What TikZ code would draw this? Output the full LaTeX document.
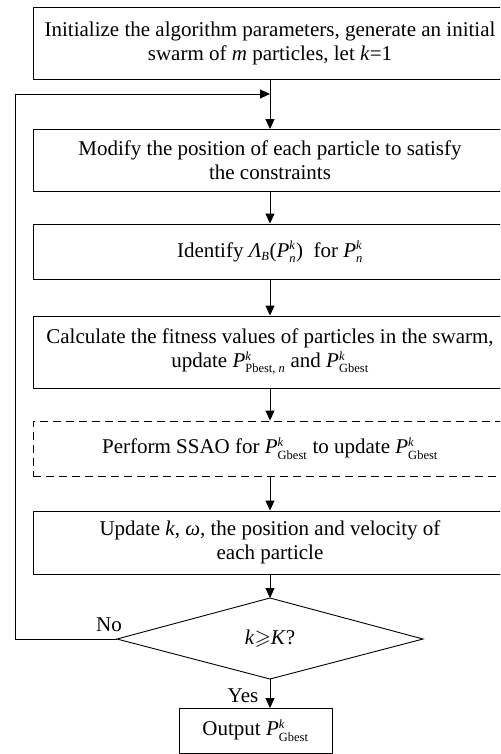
\documentclass[tikz,border=0pt]{standalone}
\usepackage{amssymb}
\usepackage{fontspec}
\setmainfont{Liberation Serif}
\usetikzlibrary{arrows.meta,shapes.geometric}
\newcommand\subfs{\fontsize{12.5}{13}\selectfont}
\newcommand\PP[2]{\textit{P}$^{\mbox{\subfs\itshape #1}}_{\mbox{\subfs #2}}$}
\newcommand\Pn{\textit{P}$^{\mbox{\subfs\itshape k}}_{\mbox{\subfs\itshape n}}$}
\begin{document}
\begin{tikzpicture}[x=1pt,y=-1pt,
  every node/.style={font=\fontsize{21}{24}\selectfont},
  proc/.style={draw,line width=0.9pt,minimum width=474pt,align=center,inner sep=0pt},
  dproc/.style={proc,dash pattern=on 8pt off 5pt},
  arr/.style={-{Triangle[length=10pt,width=9pt]},line width=0.9pt},
  ln/.style={line width=0.9pt}]
\useasboundingbox (0,0) rectangle (500,754);
\clip (0,0) rectangle (500,754);
\node[proc,minimum height=72pt] (b1) at (270,43) {Initialize the algorithm parameters, generate an initial\\swarm of \textit{m} particles, let \textit{k}=1};
\node[proc,minimum height=62pt] (b2) at (270,160.5) {Modify the position of each particle to satisfy\\the constraints};
\node[proc,minimum height=55pt] (b3) at (270,251.5) {Identify \textit{Λ}$_{\mbox{\subfs\itshape B}}$(\Pn)\ \ for \Pn};
\node[proc,minimum height=72pt] (b4) at (270,352) {Calculate the fitness values of particles in the swarm,\\update \PP{k}{Pbest, \itshape n} and \PP{k}{Gbest}};
\node[dproc,minimum height=55pt] (b5) at (270,448.5) {Perform SSAO for \PP{k}{Gbest} to update \PP{k}{Gbest}};
\node[proc,minimum height=63pt] (b6) at (270,542.5) {Update \textit{k}, \textit{ω}, the position and velocity of\\each particle};
\coordinate (dt) at (270,598);
\coordinate (db) at (270,679);
\coordinate (dl) at (117,639);
\coordinate (dr) at (423,639);
\draw[ln] (dt) -- (dr) -- (db) -- (dl) -- cycle;
\node (dec) at (270,639) {\textit{k}$\geqslant$\textit{K}?};
\node[draw,line width=0.9pt,minimum width=153pt,minimum height=45pt,inner sep=0pt] (out) at (255.5,730.5) {Output \PP{k}{Gbest}};
\coordinate (j) at (270,94);
\coordinate (c1) at (15,639);
\coordinate (c2) at (15,94);
\draw[ln] (b1.south) -- (j);
\draw[arr] (j) -- (b2.north);
\draw[arr] (b2.south) -- (b3.north);
\draw[arr] (b3.south) -- (b4.north);
\draw[arr] (b4.south) -- (b5.north);
\draw[arr] (b5.south) -- (b6.north);
\draw[arr] (b6.south) -- (dt);
\draw[arr] (db) -- (270,708);
\draw[arr] (dl) -- (c1) -- (c2) -- (j);
\node at (109,625) {No};
\node at (243,696) {Yes};
\end{tikzpicture}
\end{document}
